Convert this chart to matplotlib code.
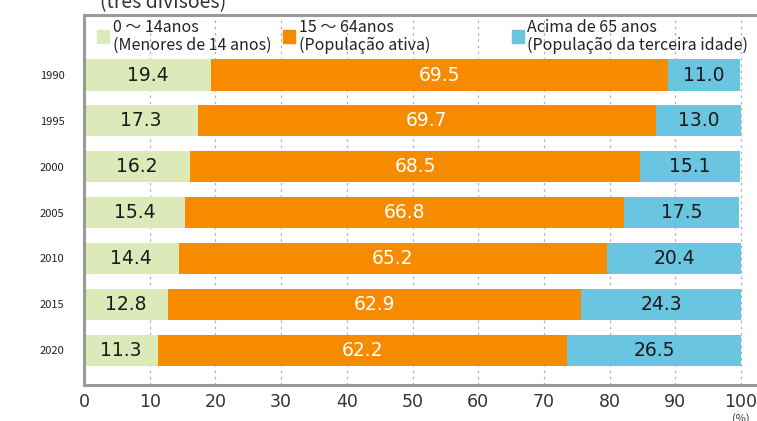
import matplotlib.pyplot as plt

years = ["1990", "1995", "2000", "2005", "2010", "2015", "2020"]
young = [19.4, 17.3, 16.2, 15.4, 14.4, 12.8, 11.3]
working = [69.5, 69.7, 68.5, 66.8, 65.2, 62.9, 62.2]
elderly = [11.0, 13.0, 15.1, 17.5, 20.4, 24.3, 26.5]

series = [young, working, elderly]
colors = ["#dce9b8", "#f78b00", "#6ac5e0"]
text_colors = ["#1a1a1a", "white", "#1a1a1a"]
legend_lines = [
    ("0 ～ 14anos", "(Menores de 14 anos)"),
    ("15 ～ 64anos", "(População ativa)"),
    ("Acima de 65 anos", "(População da terceira idade)"),
]

plt.rcParams['font.family'] = ['Noto Sans CJK JP', 'DejaVu Sans']

fig = plt.figure(figsize=(7.57, 4.21), dpi=100)
ax = fig.add_axes([84 / 757, 1 - 385 / 421, 1 - 84 / 757, (385 - 15) / 421])

ypos = list(range(len(years)))
left = [0] * len(years)
for vals, c, tc in zip(series, colors, text_colors):
    ax.barh(ypos, vals, left=left, height=0.68, color=c, zorder=2)
    for y, l, v in zip(ypos, left, vals):
        ax.text(l + v / 2, y, f"{v:.1f}", ha="center", va="center",
                fontsize=13.5, color=tc, family="DejaVu Sans", zorder=3)
    left = [a + b for a, b in zip(left, vals)]

ax.set_xlim(0, (757 - 84) / 6.57)
ax.set_ylim(6.76, -1.31)
ax.set_xticks(range(0, 101, 10))
ax.set_xticklabels([str(t) for t in range(0, 101, 10)], fontsize=12.5,
                   color="#333333", family="DejaVu Sans")
ax.set_yticks(ypos)
ax.set_yticklabels(years, fontsize=8, color="#222222")
ax.tick_params(length=0)
ax.tick_params(axis="x", pad=6)
ax.tick_params(axis="y", pad=14)

for x in range(10, 101, 10):
    ax.axvline(x, color="#b0b0b0", linestyle=(0, (2, 3)), linewidth=0.9, zorder=1)

for s in ["left", "bottom", "top"]:
    ax.spines[s].set_color("#9a9a9a")
    ax.spines[s].set_linewidth(2.2)
ax.spines["right"].set_visible(False)

# legend drawn by hand
leg_x = [2.0, 30.3, 65.1]
for (l1, l2), c, lx in zip(legend_lines, colors, leg_x):
    ax.add_patch(plt.Rectangle((lx, -0.99), 1.8, 0.29, color=c, zorder=3,
                               clip_on=False))
    ax.text(lx + 2.4, -1.03, l1, fontsize=11.5, va="center", ha="left", color="#222222")
    ax.text(lx + 2.4, -0.64, l2, fontsize=11.5, va="center", ha="left", color="#222222")

fig.text(100 / 757, 1 - 3 / 421, "(três divisões)", fontsize=14, color="#333333",
         ha="left", va="center")
fig.text(741 / 757, 1 - 419 / 421, "(%)", fontsize=8, color="#333333",
         ha="center", va="center")

fig.savefig("out.png", dpi=100)
